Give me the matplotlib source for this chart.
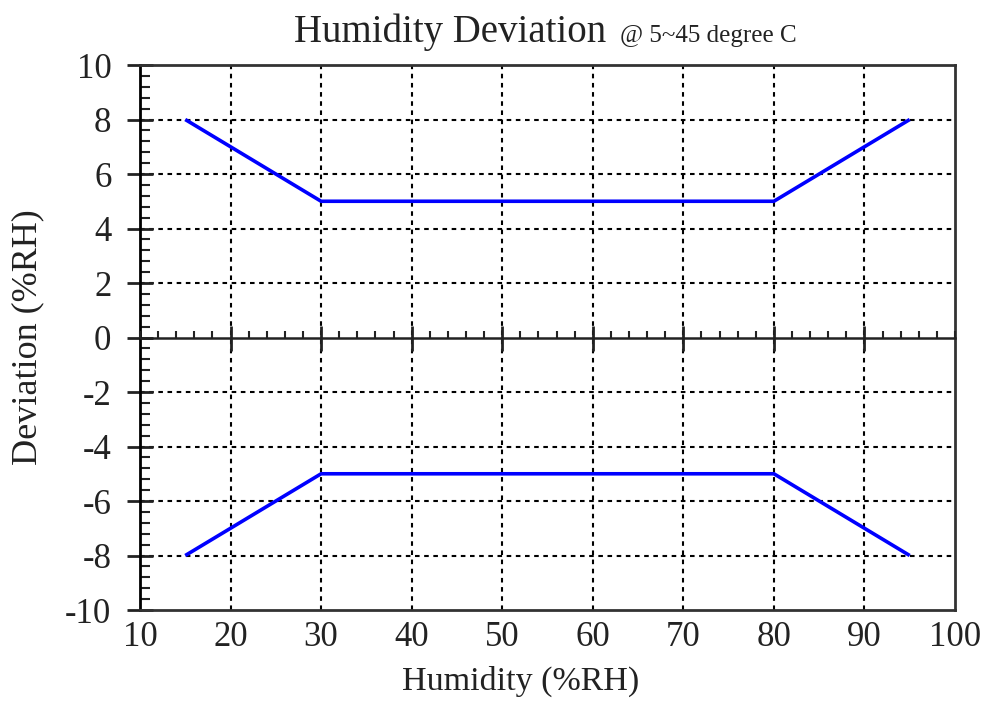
import matplotlib
matplotlib.use("Agg")
import matplotlib.pyplot as plt
from matplotlib.ticker import MultipleLocator

# data
upper_x = [15, 30, 80, 95]
upper_y = [8, 5, 5, 8]
lower_x = [15, 30, 80, 95]
lower_y = [-8, -5, -5, -8]
x_ticks = [10, 20, 30, 40, 50, 60, 70, 80, 90, 100]
y_ticks = [-10, -8, -6, -4, -2, 0, 2, 4, 6, 8, 10]

plt.rcParams['font.family'] = ['Liberation Serif', 'DejaVu Serif']
plt.rcParams['axes.unicode_minus'] = False

fig = plt.figure(figsize=(9.87, 7.02), dpi=100)
ax = fig.add_axes([0.1418, 0.131, 0.8258, 0.7764])

ax.plot(upper_x, upper_y, color='#0000ff', lw=2.6, solid_capstyle='butt')
ax.plot(lower_x, lower_y, color='#0000ff', lw=2.6, solid_capstyle='butt')

ax.set_xlim(10, 100)
ax.set_ylim(-10, 10)
ax.set_xticks(x_ticks)
ax.set_yticks(y_ticks)
ax.yaxis.set_minor_locator(MultipleLocator(0.4))

# dashed grid on inner major ticks only
for xv in x_ticks[1:-1]:
    ax.axvline(xv, color='black', lw=1.5, ls=(0, (2.2, 2.2)), zorder=0.5)
for yv in y_ticks[1:-1]:
    if yv != 0:
        ax.axhline(yv, color='black', lw=1.5, ls=(0, (2.2, 2.2)), zorder=0.5)

for s in ax.spines.values():
    s.set_linewidth(2)
    s.set_color('#333333')
ax.spines['left'].set_color('black')

# zero axis with its own ticks (separate axes, same limits)
ax0 = fig.add_axes(ax.get_position(), frameon=False)
ax0.set_xlim(10, 100)
ax0.set_ylim(-10, 10)
ax0.patch.set_visible(False)
ax0.set_frame_on(True)
for k in ['top', 'right', 'left']:
    ax0.spines[k].set_visible(False)
ax0.spines['bottom'].set_position(('data', 0))
ax0.spines['bottom'].set_linewidth(1.8)
ax0.spines['bottom'].set_color('#222222')
ax0.set_xticks(x_ticks[1:-1])
ax0.xaxis.set_minor_locator(MultipleLocator(2))
ax0.set_yticks([])
ax0.tick_params(axis='x', which='major', direction='inout', length=18, width=2,
                labelbottom=False, color='#222222')
ax0.tick_params(axis='x', which='minor', direction='in', length=5, width=1.5,
                color='#222222')

ax.tick_params(axis='x', which='both', length=0, labelsize=25, pad=8, colors='#222222')
ax.tick_params(axis='y', which='major', direction='inout', length=19, width=2,
               labelsize=25, pad=11, colors='#222222')
ax.tick_params(axis='y', which='minor', direction='in', length=7, width=1.5,
               color='#222222')

fig.text(606 / 987, 1 - 42 / 702, 'Humidity Deviation', ha='right', va='baseline',
         fontsize=28, color='#222222')
fig.text(620 / 987, 1 - 42 / 702, '@ 5~45 degree C', ha='left', va='baseline',
         fontsize=18, color='#222222')
fig.text(521 / 987, 1 - 690 / 702, 'Humidity (%RH)', ha='center', va='baseline',
         fontsize=24.5, color='#222222')
fig.text(28 / 987, 1 - 337 / 702, 'Deviation (%RH)', ha='center', va='center',
         rotation=90, fontsize=26, color='#222222')

fig.savefig('out.png', dpi=100)
